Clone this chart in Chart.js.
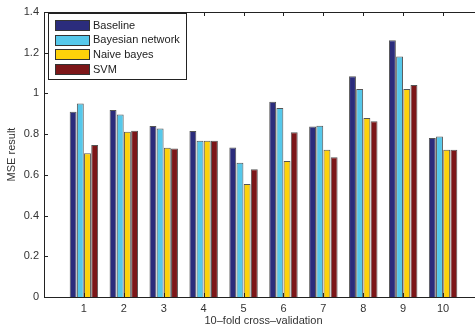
<!DOCTYPE html>
<html>
<head>
<meta charset="utf-8">
<script src="https://cdn.jsdelivr.net/npm/chart.js@4"></script>
<style>
  html, body { margin: 0; padding: 0; background: #fff; overflow: hidden; }
  #wrap { width: 490px; height: 329px; position: relative; }
</style>
</head>
<body>
<div id="wrap"><canvas id="mse-chart"></canvas></div>
<script>
const folds = [1, 2, 3, 4, 5, 6, 7, 8, 9, 10];
const baseline = [0.91, 0.918, 0.84, 0.815, 0.735, 0.959, 0.838, 1.084, 1.261, 0.781];
const bayesNet = [0.951, 0.897, 0.828, 0.768, 0.66, 0.928, 0.841, 1.022, 1.182, 0.789];
const naiveBayes = [0.706, 0.812, 0.733, 0.768, 0.555, 0.668, 0.723, 0.879, 1.022, 0.723];
const svm = [0.747, 0.817, 0.73, 0.768, 0.627, 0.809, 0.686, 0.863, 1.041, 0.723];
const seriesNames = ["Baseline", "Bayesian network", "Naive bayes", "SVM"];
const seriesColors = ["#2b2c7c", "#56c8ea", "#fdd20a", "#7c1618"];
const yTicks = [0, 0.2, 0.4, 0.6, 0.8, 1, 1.2, 1.4];

const FONT = "'Liberation Sans', Arial, sans-serif";

function toPoints(values){
    return values.map((v, i) => ({x: folds[i], y: v}));
}

// matlab style box with inward ticks + legend in the corner
const boxPlugin = {
    id: "box",
    afterDatasetsDraw(chart){
        const ctx = chart.ctx;
        const a = chart.chartArea;
        const xs = chart.scales.x;
        const ys = chart.scales.y;
        ctx.save();
        ctx.strokeStyle = "#222";
        ctx.lineWidth = 1;
        ctx.strokeRect(Math.round(a.left) + 0.5, Math.round(a.top) + 0.5, Math.round(a.right - a.left), Math.round(a.bottom - a.top));
        ctx.beginPath();
        xs.ticks.forEach(t => {
            if (t.value <= xs.min || t.value >= xs.max) return;
            const px = Math.round(xs.getPixelForValue(t.value)) + 0.5;
            ctx.moveTo(px, a.bottom); ctx.lineTo(px, a.bottom - 4);
            ctx.moveTo(px, a.top); ctx.lineTo(px, a.top + 4);
        });
        ys.ticks.forEach(t => {
            if (t.value <= ys.min || t.value >= ys.max) return;
            const py = Math.round(ys.getPixelForValue(t.value)) + 0.5;
            ctx.moveTo(a.left, py); ctx.lineTo(a.left + 4, py);
            ctx.moveTo(a.right, py); ctx.lineTo(a.right - 4, py);
        });
        ctx.stroke();
        ctx.restore();
    },
    afterDraw(chart){
        const ctx = chart.ctx;
        const a = chart.chartArea;
        const x0 = a.left + 4, y0 = a.top + 1;
        const w = 138, h = 66;
        ctx.save();
        ctx.fillStyle = "#fff";
        ctx.fillRect(x0, y0, w, h);
        ctx.strokeStyle = "#222";
        ctx.lineWidth = 1;
        ctx.strokeRect(x0 + 0.5, y0 + 0.5, w, h);
        ctx.font = "11px " + FONT;
        ctx.textBaseline = "middle";
        chart.data.datasets.forEach((ds, i) => {
            const cy = y0 + 12 + i * 14.7;
            ctx.fillStyle = ds.backgroundColor;
            ctx.fillRect(x0 + 7, Math.round(cy - 5), 34, 10);
            ctx.strokeStyle = "#333";
            ctx.strokeRect(x0 + 7.5, Math.round(cy - 5) + 0.5, 34, 10);
            ctx.fillStyle = "#222";
            ctx.fillText(ds.label, x0 + 45, cy + 0.5);
        });
        ctx.restore();
    }
};

const datasets = [baseline, bayesNet, naiveBayes, svm].map((vals, i) => ({
    label: seriesNames[i],
    data: toPoints(vals),
    backgroundColor: seriesColors[i],
    borderColor: "#555",
    borderWidth: 1,
    categoryPercentage: 0.72,
    barPercentage: 0.96
}));

new Chart(document.getElementById("mse-chart"), {
    type: "bar",
    data: { datasets: datasets },
    options: {
        responsive: true,
        maintainAspectRatio: false,
        animation: false,
        layout: { padding: { top: 12, right: 7, left: 0, bottom: 0 } },
        plugins: { legend: { display: false }, tooltip: { enabled: false } },
        scales: {
            x: {
                type: "linear",
                min: 0,
                max: 11,
                offset: false,
                grid: { display: false, drawTicks: false },
                border: { display: false },
                afterBuildTicks: s => { s.ticks = [0].concat(folds, [11]).map(v => ({value: v})); },
                afterFit: s => { s.height = 32; },
                ticks: {
                    autoSkip: false,
                    maxRotation: 0,
                    padding: 5,
                    color: "#333",
                    font: { family: FONT, size: 11 },
                    callback: v => (folds.includes(v) ? String(v) : "")
                },
                title: {
                    display: true,
                    text: "10\u2013fold cross\u2013validation",
                    color: "#333",
                    font: { family: FONT, size: 11 },
                    padding: { top: 0, bottom: 1 }
                }
            },
            y: {
                min: 0,
                max: 1.4,
                grid: { display: false, drawTicks: false },
                border: { display: false },
                afterBuildTicks: s => { s.ticks = yTicks.map(v => ({value: v})); },
                afterFit: s => { s.width = 44; },
                ticks: {
                    padding: 5,
                    color: "#333",
                    font: { family: FONT, size: 11 },
                    callback: v => String(v)
                },
                title: {
                    display: true,
                    text: "MSE result",
                    color: "#333",
                    font: { family: FONT, size: 11 },
                    padding: { top: 5, bottom: 0 }
                }
            }
        }
    },
    plugins: [boxPlugin]
});
</script>
</body>
</html>
